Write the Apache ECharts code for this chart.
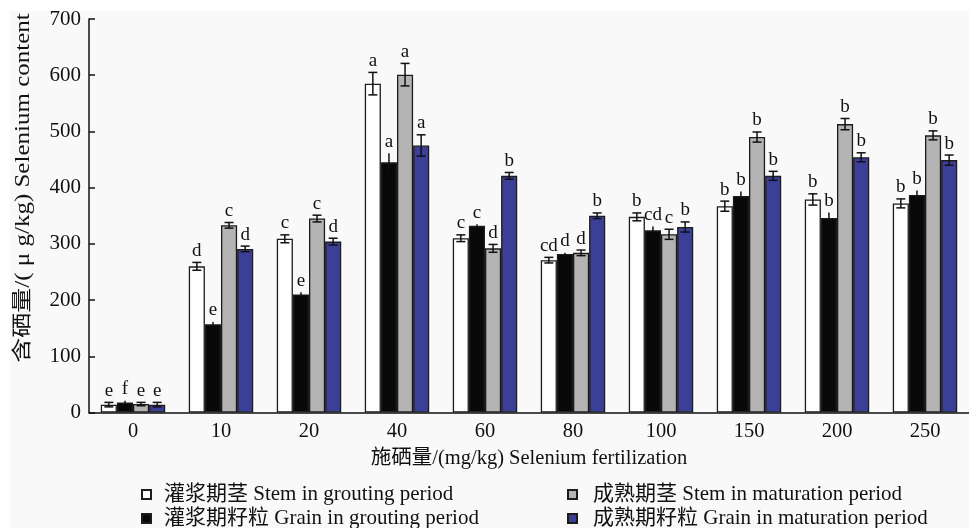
<!DOCTYPE html>
<html>
<head>
<meta charset="utf-8">
<script src="https://cdn.jsdelivr.net/npm/echarts@6/dist/echarts.min.js"></script>
<style>
  html, body { margin: 0; padding: 0; background: #ffffff; }
  #chart { width: 969px; height: 528px; }
</style>
</head>
<body>
<div id="chart"></div>
<script>
// Selenium fertilization rates (mg/kg)
const categories = ['0', '10', '20', '40', '60', '80', '100', '150', '200', '250'];

// Series names
const seriesNames = [
  '灌浆期茎 Stem in grouting period',
  '灌浆期籽粒 Grain in grouting period',
  '成熟期茎 Stem in maturation period',
  '成熟期籽粒 Grain in maturation period'
];

// Selenium content (μg/kg)
const stemGrouting  = [14, 260, 309, 585, 310, 271, 348, 367, 379, 372];
const grainGrouting = [18, 157, 210, 445, 332, 282, 324, 385, 346, 387];
const stemMature    = [15, 333, 345, 601, 292, 284, 317, 490, 513, 493];
const grainMature   = [14, 291, 304, 475, 421, 350, 330, 421, 454, 449];

// Standard errors
const errStemGrouting  = [4, 7, 7, 20, 6, 5, 7, 9, 10, 8];
const errGrainGrouting = [3, 4, 4, 16, 3, 2, 7, 8, 10, 8];
const errStemMature    = [3, 5, 6, 20, 7, 5, 9, 9, 10, 8];
const errGrainMature   = [4, 5, 6, 19, 6, 5, 9, 8, 8, 9];

// Significance letters
const sigStemGrouting  = ['e', 'd', 'c', 'a', 'c', 'cd', 'b', 'b', 'b', 'b'];
const sigGrainGrouting = ['f', 'e', 'e', 'a', 'c', 'd', 'cd', 'b', 'b', 'b'];
const sigStemMature    = ['e', 'c', 'c', 'a', 'd', 'd', 'c', 'b', 'b', 'b'];
const sigGrainMature   = ['e', 'd', 'd', 'a', 'b', 'b', 'b', 'b', 'b', 'b'];

const values = [stemGrouting, grainGrouting, stemMature, grainMature];
const errors = [errStemGrouting, errGrainGrouting, errStemMature, errGrainMature];
const letters = [sigStemGrouting, sigGrainGrouting, sigStemMature, sigGrainMature];
const colors = ['#ffffff', '#080808', '#b4b4b4', '#3b3f97'];

const SERIF = "'Liberation Serif', 'Times New Roman', 'Noto Sans CJK SC', serif";
const BAR_RATIO = 0.183;

const chart = echarts.init(document.getElementById('chart'), null, { renderer: 'canvas' });

const barSeries = values.map((vals, k) => ({
  name: seriesNames[k],
  type: 'bar',
  data: vals,
  barWidth: (BAR_RATIO * 100) + '%',
  barGap: '0%',
  itemStyle: { color: colors[k], borderColor: '#1c1c1c', borderWidth: 1.3 },
  z: 2
}));

// Error bars and significance letters drawn on top of each bar
const errSeries = values.map((vals, k) => ({
  type: 'custom',
  name: 'err' + k,
  z: 5,
  silent: true,
  data: vals.map((v, i) => [i, v, errors[k][i]]),
  renderItem: function (params, api) {
    const idx = api.value(0);
    const v = api.value(1);
    const e = api.value(2);
    const bw = api.size([1, 0])[0] * BAR_RATIO;
    const c = api.coord([idx, v]);
    const x = c[0] + (k - 1.5) * bw;
    const yTop = api.coord([idx, v + e])[1];
    const yBot = api.coord([idx, Math.max(v - e, 0)])[1];
    const cap = 4.5;
    const stroke = { stroke: '#111111', lineWidth: 1.5 };
    const children = [
      { type: 'line', shape: { x1: x, y1: yTop, x2: x, y2: yBot }, style: stroke }
    ];
    if (k !== 1) {
      children.push({ type: 'line', shape: { x1: x - cap, y1: yTop, x2: x + cap, y2: yTop }, style: stroke });
      children.push({ type: 'line', shape: { x1: x - cap, y1: yBot, x2: x + cap, y2: yBot }, style: stroke });
    }
    children.push({
      type: 'text',
      x: x,
      y: yTop - 2,
      style: {
        text: letters[k][idx],
        fill: '#111111',
        font: '19px ' + SERIF,
        textAlign: 'center',
        textVerticalAlign: 'bottom'
      }
    });
    return { type: 'group', children: children };
  }
}));

// One single-item legend per entry, laid out as two columns of two rows
const legendPos = [
  { left: 141, top: 484 },
  { left: 141, top: 508 },
  { left: 567, top: 484 },
  { left: 567, top: 508 }
];
const legendPad = [8, 8, 11, 11];
const legends = seriesNames.map((name, k) => ({
  data: [name],
  orient: 'horizontal',
  left: legendPos[k].left,
  top: legendPos[k].top,
  padding: 0,
  itemWidth: 9,
  itemHeight: 9,
  icon: 'rect',
  selectedMode: false,
  textStyle: { fontFamily: SERIF, fontSize: 21, color: '#111111', padding: [0, 0, 0, legendPad[k]] }
}));

const option = {
  backgroundColor: '#ffffff',
  animation: false,
  graphic: [
    {
      type: 'rect',
      z: -10,
      shape: { x: 10, y: 11, width: 959, height: 517 },
      style: { fill: '#f9f9f9' }
    },
    {
      type: 'text',
      x: 24,
      y: 188,
      rotation: Math.PI / 2,
      scaleX: 1.25,
      style: {
        text: '含硒量/( μ g/kg) Selenium content',
        font: '20px ' + SERIF,
        fill: '#111111',
        textAlign: 'center',
        textVerticalAlign: 'middle'
      }
    }
  ],
  grid: { left: 89, top: 19, width: 886, height: 393.5 },
  legend: legends,
  xAxis: {
    type: 'category',
    data: categories,
    boundaryGap: true,
    name: '施硒量/(mg/kg) Selenium fertilization',
    nameLocation: 'middle',
    nameGap: 36,
    nameTextStyle: { fontFamily: SERIF, fontSize: 20.5, color: '#111111' },
    axisLine: { lineStyle: { color: '#111111', width: 1.5 } },
    axisTick: { inside: true, length: 6, alignWithLabel: false, lineStyle: { color: '#111111', width: 1.5 } },
    axisLabel: { fontFamily: SERIF, fontSize: 20.5, color: '#111111', margin: 9 },
    splitLine: { show: false }
  },
  yAxis: {
    type: 'value',
    min: 0,
    max: 700,
    interval: 100,
    axisLine: { show: true, lineStyle: { color: '#111111', width: 1.5 } },
    axisTick: { show: true, inside: true, length: 6, lineStyle: { color: '#111111', width: 1.5 } },
    axisLabel: { fontFamily: SERIF, fontSize: 21, color: '#111111', margin: 8 },
    splitLine: { show: false }
  },
  series: barSeries.concat(errSeries)
};

chart.setOption(option);
</script>
</body>
</html>
